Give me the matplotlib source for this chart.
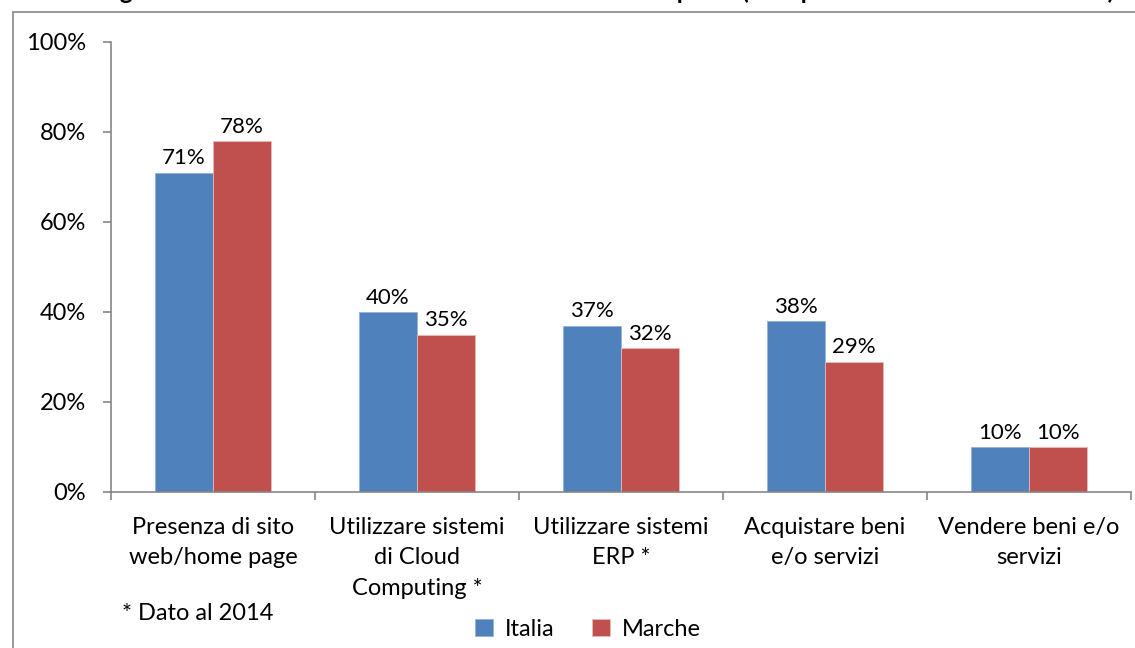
import matplotlib
matplotlib.use('Agg')
import matplotlib.pyplot as plt
from matplotlib.patches import Rectangle
import numpy as np

plt.rcParams['font.family'] = ['Lato', 'DejaVu Sans']

categories = ['Presenza di sito\nweb/home page',
              'Utilizzare sistemi\ndi Cloud\nComputing *',
              'Utilizzare sistemi\nERP *',
              'Acquistare beni\ne/o servizi',
              'Vendere beni e/o\nservizi']
italia = [71, 40, 37, 38, 10]
marche = [78, 35, 32, 29, 10]
yticks = [0, 20, 40, 60, 80, 100]

blue = '#4F81BD'
red = '#C0504D'
grey = '#868686'
fs = 17

W, H = 1135, 648
fig = plt.figure(figsize=(W / 100, H / 100), dpi=100)

# chart frame (runs off the right and bottom edges)
fig.patches.append(Rectangle((13 / W, -0.1), 1.2, (H - 12) / H + 0.1,
                             transform=fig.transFigure, fill=False,
                             edgecolor=grey, linewidth=1.2))

# title sits above the frame, only its lower part shows
fig.text(0.505, 1 + 1 / H, "Tecnologie dell'informazione e della comunicazione nelle imprese "
         "(% imprese con almeno 10 addetti)", ha='center', va='baseline',
         fontsize=17.5, fontweight='bold')

ax = fig.add_axes([111 / W, (H - 492) / H, (1131 - 111) / W, 450 / H])

x = np.arange(len(categories))
w = 0.284
b1 = ax.bar(x - w / 2, italia, w, color=blue, edgecolor='#95B3D7', linewidth=0.6, label='Italia')
b2 = ax.bar(x + w / 2, marche, w, color=red, edgecolor='#E6B9B8', linewidth=0.6, label='Marche')

for bars, vals in ((b1, italia), (b2, marche)):
    for r, v in zip(bars, vals):
        ax.annotate('%d%%' % v, (r.get_x() + r.get_width() / 2, v),
                    xytext=(0, 3), textcoords='offset points',
                    ha='center', va='bottom', fontsize=16)

ax.set_xlim(-0.5, len(categories) - 0.5)
ax.set_ylim(0, 100)
ax.set_yticks(yticks)
ax.set_yticklabels(['%d%%' % t for t in yticks], fontsize=fs)

ax.set_xticks(np.arange(-0.5, len(categories)))
ax.set_xticklabels([])
ax.set_xticks(x, minor=True)
ax.set_xticklabels(categories, minor=True, fontsize=fs, linespacing=1.55)
ax.tick_params(axis='x', which='minor', length=0, pad=18)
ax.tick_params(axis='x', which='major', length=6, color=grey, width=1.2)
ax.tick_params(axis='y', length=6, color=grey, width=1.2, pad=12)

for s in ('top', 'right'):
    ax.spines[s].set_visible(False)
for s in ('left', 'bottom'):
    ax.spines[s].set_color(grey)
    ax.spines[s].set_linewidth(1.2)

fig.text(122 / W, 1 - 613 / H, '* Dato al 2014', ha='left', va='center', fontsize=fs)

fig.legend(loc='center', bbox_to_anchor=(588 / W, 1 - 629 / H), ncol=2, frameon=False,
           fontsize=fs, handlelength=0.75, handleheight=0.75, handletextpad=0.5,
           columnspacing=1.6)

fig.savefig('out.png', dpi=100)
